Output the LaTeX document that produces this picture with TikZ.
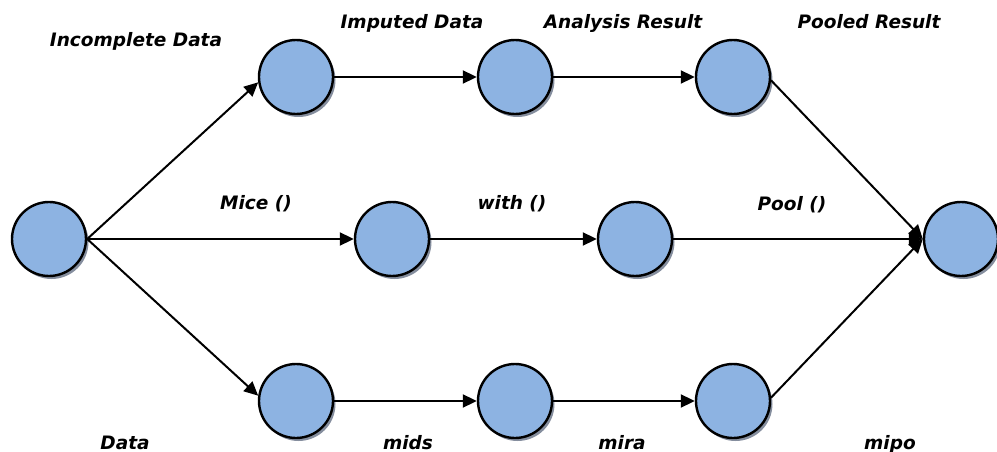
\documentclass[tikz,border=0pt]{standalone}
\usepackage{fontspec}
\newfontfamily\lblfont{DejaVu Sans}
\usetikzlibrary{arrows.meta,shadows}
\definecolor{nodeblue}{RGB}{141,179,226}
\definecolor{shadowgray}{RGB}{120,130,148}
\begin{document}
\begin{tikzpicture}[x=1pt,y=-1pt,
  state/.style={circle,draw=black,line width=2.4pt,fill=nodeblue,minimum size=74pt,inner sep=0pt,
    drop shadow={shadow xshift=2.5pt,shadow yshift=-3pt,fill=shadowgray,opacity=0.9}},
  conn/.style={line width=2pt,-{Triangle[length=14pt,width=13pt]}},
  lbl/.style={font=\lblfont\bfseries\itshape\fontsize{18.5}{20}\selectfont,anchor=base,inner sep=0pt}]
\useasboundingbox (0,0) rectangle (997,452);
\node[state] (A)  at (49,239) {};
\node[state] (T1) at (296,77) {};
\node[state] (T2) at (515,77) {};
\node[state] (T3) at (733,77) {};
\node[state] (M1) at (392,239) {};
\node[state] (M2) at (635,239) {};
\node[state] (B1) at (296,401) {};
\node[state] (B2) at (515,401) {};
\node[state] (B3) at (733,401) {};
\node[state] (E)  at (961,239) {};
\draw[conn] (A.east) -- (T1.188);
\draw[conn] (A.east) -- (M1.west);
\draw[conn] (A.east) -- (B1.172);
\draw[conn] (T1) -- (T2);
\draw[conn] (T2) -- (T3);
\draw[conn] (M1) -- (M2);
\draw[conn] (B1) -- (B2);
\draw[conn] (B2) -- (B3);
\draw[conn] (T3.355) -- (E.west);
\draw[conn] (M2.east) -- (E.west);
\draw[conn] (B3.5) -- (E.west);
\node[lbl] (l1) at (136,47) {Incomplete Data};
\node[lbl] (l2) at (412,29) {Imputed Data};
\node[lbl] (l3) at (623,29) {Analysis Result};
\node[lbl] (l4) at (869,29) {Pooled Result};
\node[lbl] (l5) at (256,209) {Mice ()};
\node[lbl] (l6) at (512,209) {with ()};
\node[lbl] (l7) at (792,210) {Pool ()};
\node[lbl] (l8) at (125,449) {Data};
\node[lbl] (l9) at (408,449) {mids};
\node[lbl] (l10) at (622,449) {mira};
\node[lbl] (l11) at (890,449) {mipo};
\end{tikzpicture}
\end{document}
